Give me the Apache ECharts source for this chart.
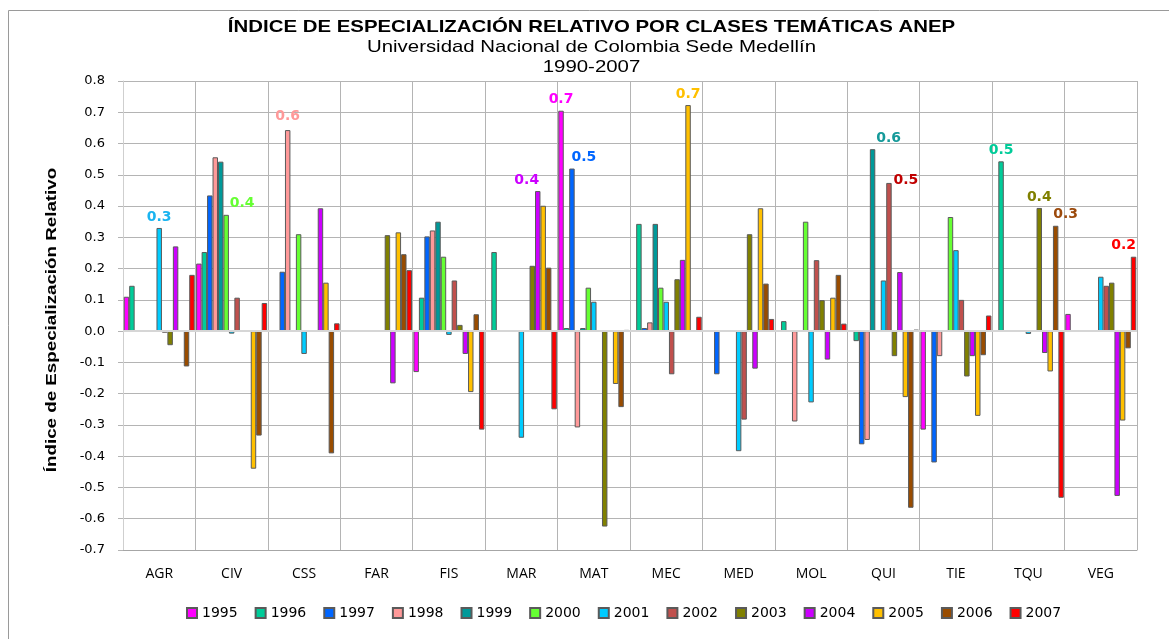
<!DOCTYPE html>
<html><head><meta charset="utf-8">
<script src="https://cdn.jsdelivr.net/npm/echarts@6/dist/echarts.min.js"></script>
<style>html,body{margin:0;padding:0;background:#fff}#c{width:1169px;height:639px}</style>
</head><body><div id="c"></div>
<script>
const categories = ['AGR','CIV','CSS','FAR','FIS','MAR','MAT','MEC','MED','MOL','QUI','TIE','TQU','VEG'];
const years = ['1995','1996','1997','1998','1999','2000','2001','2002','2003','2004','2005','2006','2007'];
const yTicks = [-0.7,-0.6,-0.5,-0.4,-0.3,-0.2,-0.1,0,0.1,0.2,0.3,0.4,0.5,0.6,0.7,0.8];

const v1995 = [0.11, 0.216, null, null, -0.131, null, 0.705, null, null, null, null, -0.315, null, 0.055];
const v1996 = [0.145, 0.253, null, null, 0.107, 0.253, 0.01, 0.343, null, 0.032, -0.032, null, 0.543, null];
const v1997 = [null, 0.434, 0.19, null, 0.303, null, 0.52, 0.01, -0.138, null, -0.362, -0.42, null, null];
const v1998 = [null, 0.556, 0.643, null, 0.322, null, -0.308, 0.028, null, -0.289, -0.348, -0.08, null, null];
const v1999 = [null, 0.542, null, null, 0.35, null, 0.01, 0.343, null, null, 0.582, null, null, null];
const v2000 = [null, 0.372, 0.31, null, 0.238, null, 0.139, 0.139, null, 0.35, null, 0.365, null, null];
const v2001 = [0.33, -0.008, -0.073, null, -0.012, -0.341, 0.094, 0.094, -0.384, -0.228, 0.162, 0.259, -0.009, 0.174];
const v2002 = [-0.005, 0.107, null, null, 0.162, null, null, -0.138, -0.283, 0.227, 0.474, 0.1, null, 0.145];
const v2003 = [-0.045, null, null, 0.307, 0.02, 0.209, -0.625, 0.166, 0.31, 0.099, -0.08, -0.145, 0.394, 0.155];
const v2004 = [0.271, null, 0.393, -0.167, -0.073, 0.448, null, 0.228, -0.12, -0.091, 0.189, -0.08, -0.07, -0.527];
const v2005 = [null, -0.44, 0.155, 0.316, -0.195, 0.401, -0.169, 0.723, 0.393, 0.107, -0.211, -0.271, -0.129, -0.286];
const v2006 = [-0.113, -0.334, -0.391, 0.246, 0.054, 0.203, -0.243, null, 0.152, 0.18, -0.565, -0.077, 0.337, -0.055];
const v2007 = [0.18, 0.09, 0.025, 0.195, -0.315, -0.25, 0.004, 0.046, 0.039, 0.024, 0.005, 0.05, -0.533, 0.238];

const seriesValues = [v1995,v1996,v1997,v1998,v1999,v2000,v2001,v2002,v2003,v2004,v2005,v2006,v2007];
const colors = ['#ff00ff','#00cc99','#0066ff','#ff9999','#009999','#66ff33','#00ccff','#c0504d','#808000','#cc00ff','#ffc000','#994c00','#ff0000'];
const labelColors = ['#ff00ff','#00cc99','#0066ff','#ff9999','#159a9a','#66ff33','#1ab4f0','#c00000','#808000','#cc00ff','#ffc000','#9c4a0c','#ff0000'];
const labelOffsets = [[0,0],[0,0],[12,0],[0,-3],[16,0],[16,0],[0,0],[17,8],[0,0],[-11,0],[0,0],[10,0],[-10,0]];

const series = years.map((y, i) => {
  const vals = seriesValues[i];
  let maxIdx = -1;
  vals.forEach((v, j) => { if (v != null && (maxIdx < 0 || v > vals[maxIdx])) maxIdx = j; });
  const s = {
    name: y, type: 'bar', barGap: '0%', barCategoryGap: '2%',
    itemStyle: { color: colors[i], borderColor: '#5a5a5a', borderWidth: 1 },
    data: vals.map((v, j) => j === maxIdx ? {
      value: v,
      label: { show: true, position: 'top', distance: 4, offset: labelOffsets[i],
        formatter: p => Number(p.value).toFixed(1), color: labelColors[i],
        fontFamily: 'DejaVu Sans', fontWeight: 'bold', fontSize: 14 }
    } : v),
    animation: false
  };
  if (i === 0) {
    s.markLine = { silent: true, symbol: 'none', label: { show: false },
      lineStyle: { color: '#d6d6d6', width: 2, type: 'solid' }, data: [{ yAxis: 0 }] };
  }
  return s;
});

const chart = echarts.init(document.getElementById('c'), null, { renderer: 'canvas' });
chart.setOption({
  animation: false,
  backgroundColor: '#ffffff',
  grid: { left: 123, right: 32, top: 81, bottom: 89 },
  legend: {
    data: years, left: 181, top: 601, itemWidth: 10, itemHeight: 10, itemGap: 17, icon: 'rect',
    textStyle: { fontFamily: 'DejaVu Sans', fontSize: 14, color: '#000' }
  },
  xAxis: {
    type: 'category', data: categories, boundaryGap: true,
    axisLine: { onZero: false, lineStyle: { color: '#a6a6a6', width: 1 } },
    axisTick: { show: false },
    splitLine: { show: true, interval: 0, lineStyle: { color: '#b4b4b4', width: 1 } },
    axisLabel: { interval: 0, margin: 17, fontFamily: 'Open Sans', fontSize: 14, color: '#000' }
  },
  yAxis: {
    type: 'value', min: yTicks[0], max: yTicks[yTicks.length - 1], interval: 0.1,
    axisLine: { show: true, lineStyle: { color: '#cfcfcf', width: 1 } },
    axisTick: { show: true, length: 5, lineStyle: { color: '#b4b4b4' } },
    splitLine: { show: true, lineStyle: { color: '#b4b4b4', width: 1 } },
    axisLabel: { margin: 18, fontFamily: 'DejaVu Sans', fontSize: 13, color: '#000',
      formatter: v => (Math.abs(v) < 1e-9 ? 0 : v).toFixed(1) }
  },
  graphic: [
    { type: 'rect', silent: true, z: -10, shape: { x: 8.5, y: 10.5, width: 1200, height: 700 },
      style: { fill: 'none', stroke: '#9a9a9a', lineWidth: 1 } },
    { type: 'text', x: 591.5, y: 27, scaleX: 1.2, silent: true,
      style: { text: 'ÍNDICE DE ESPECIALIZACIÓN RELATIVO POR CLASES TEMÁTICAS ANEP', font: 'bold 17px "Liberation Sans"', fill: '#000', align: 'center', verticalAlign: 'middle' } },
    { type: 'text', x: 591.5, y: 47, scaleX: 1.2, silent: true,
      style: { text: 'Universidad Nacional de Colombia Sede Medellín', font: '17px "Liberation Sans"', fill: '#000', align: 'center', verticalAlign: 'middle' } },
    { type: 'text', x: 591.5, y: 67, scaleX: 1.2, silent: true,
      style: { text: '1990-2007', font: '17px "Liberation Sans"', fill: '#000', align: 'center', verticalAlign: 'middle' } },
    { type: 'text', x: 52, y: 320, rotation: Math.PI / 2, scaleX: 1.25, silent: true,
      style: { text: 'Índice de Especialización Relativo', font: 'bold 15px "Liberation Sans"', fill: '#000', align: 'center', verticalAlign: 'middle' } }
  ],
  series: series
});
</script>
</body></html>
